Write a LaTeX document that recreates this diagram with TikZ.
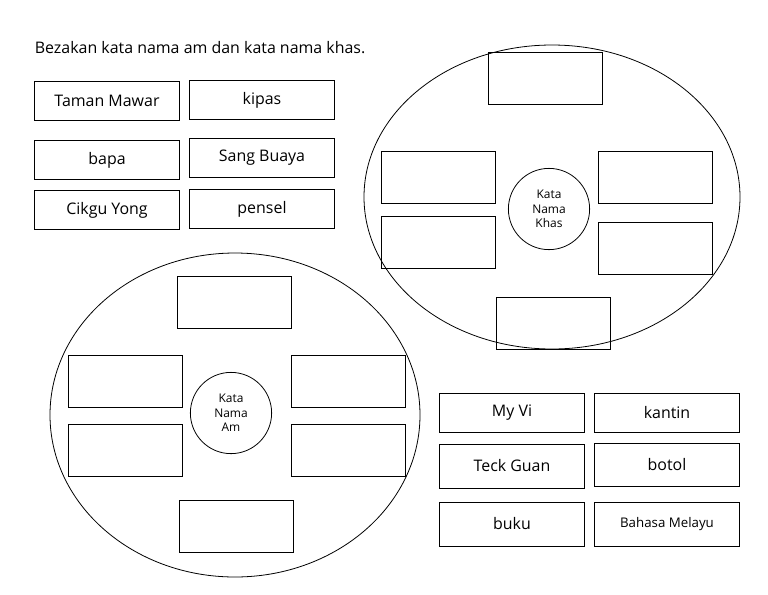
\documentclass[tikz,border=0pt]{standalone}
\usepackage{fontspec}
\setmainfont{Open Sans}
\begin{document}
\begin{tikzpicture}[x=0.02646cm,y=-0.02646cm,semithick,
	word box/.style={draw,minimum width=3.85cm,minimum height=1.05cm,font=\large},
	blank box/.style={draw,minimum width=3.02cm,minimum height=1.38cm},
	hub node/.style={circle,draw,minimum size=2.15cm,align=center,font=\small,inner sep=0pt}]
	\useasboundingbox (0,0) rectangle (768,594);
	
	\node[anchor=west,font=\large] (title) at (30,48) {Bezakan kata nama am dan kata nama khas.};
	
	% word cards top left
	\node[word box] (w1) at (107,101) {Taman Mawar};
	\node[word box] (w2) at (262,100) {kipas};
	\node[word box] (w3) at (107,160) {bapa};
	\node[word box] (w4) at (262,158) {Sang Buaya};
	\node[word box] (w5) at (107,210) {Cikgu Yong};
	\node[word box] (w6) at (262,209) {pensel};
	
	% kata nama khas
	\draw (552,197) ellipse [x radius=188,y radius=152];
	\node[hub node] (khas) at (549,209) {Kata\\Nama\\Khas};
	\node[blank box] (k1) at (545,78) {};
	\node[blank box] (k2) at (438,177) {};
	\node[blank box] (k3) at (438,242) {};
	\node[blank box] (k4) at (655,177) {};
	\node[blank box] (k5) at (655,248) {};
	\node[blank box] (k6) at (553,323) {};
	
	% kata nama am
	\draw (235,415) ellipse [x radius=185,y radius=162];
	\node[hub node] (am) at (231,413) {Kata\\Nama\\Am};
	\node[blank box] (a1) at (234,302) {};
	\node[blank box] (a2) at (125,381) {};
	\node[blank box] (a3) at (125,450) {};
	\node[blank box] (a4) at (348,381) {};
	\node[blank box] (a5) at (348,450) {};
	\node[blank box] (a6) at (236,526) {};
	
	% word cards bottom right
	\node[word box] (w7) at (512,413) {My Vi};
	\node[word box] (w8) at (667,413) {kantin};
	\node[word box,minimum height=1.16cm] (w9) at (512,466) {Teck Guan};
	\node[word box,minimum height=1.14cm] (w10) at (667,465) {botol};
	\node[word box,minimum height=1.16cm] (w11) at (512,524) {buku};
	\node[word box,minimum height=1.16cm,font=\normalsize] (w12) at (667,524) {Bahasa Melayu};
\end{tikzpicture}
\end{document}
